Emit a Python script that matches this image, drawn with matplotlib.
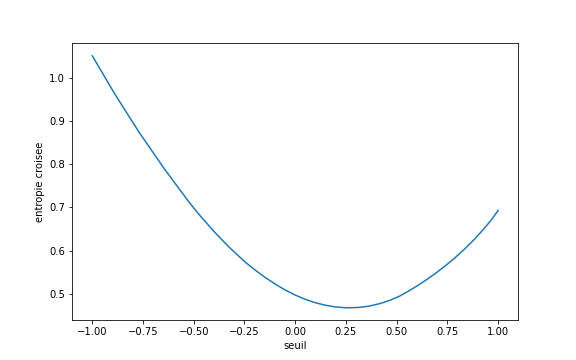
import matplotlib
matplotlib.use("Agg")
import matplotlib.pyplot as plt

# seuil values and the cross-entropy
seuils = [-1.000, -0.890, -0.770, -0.644, -0.521, -0.471, -0.398, -0.324,
          -0.250, -0.200, -0.151, -0.102, -0.053, -0.003, 0.046, 0.095,
          0.144, 0.194, 0.243, 0.268, 0.317, 0.366, 0.415, 0.465,
          0.514, 0.563, 0.612, 0.637, 0.686, 0.736, 0.785, 0.834,
          0.883, 0.931, 0.965, 1.000]
entropie = [1.052, 0.964, 0.875, 0.789, 0.711, 0.682, 0.643, 0.607,
            0.5745, 0.5555, 0.5385, 0.5231, 0.5093, 0.4972, 0.4873, 0.4794,
            0.4734, 0.4693, 0.4673, 0.4670, 0.4680, 0.4710, 0.4765, 0.4840,
            0.494, 0.507, 0.521, 0.529, 0.545, 0.563, 0.582, 0.603,
            0.626, 0.651, 0.670, 0.693]

plt.figure(figsize=(8, 5), dpi=72)
plt.plot(seuils, entropie)
plt.xlabel("seuil")
plt.ylabel("entropie croisee")
plt.savefig("out.png", dpi=72)
